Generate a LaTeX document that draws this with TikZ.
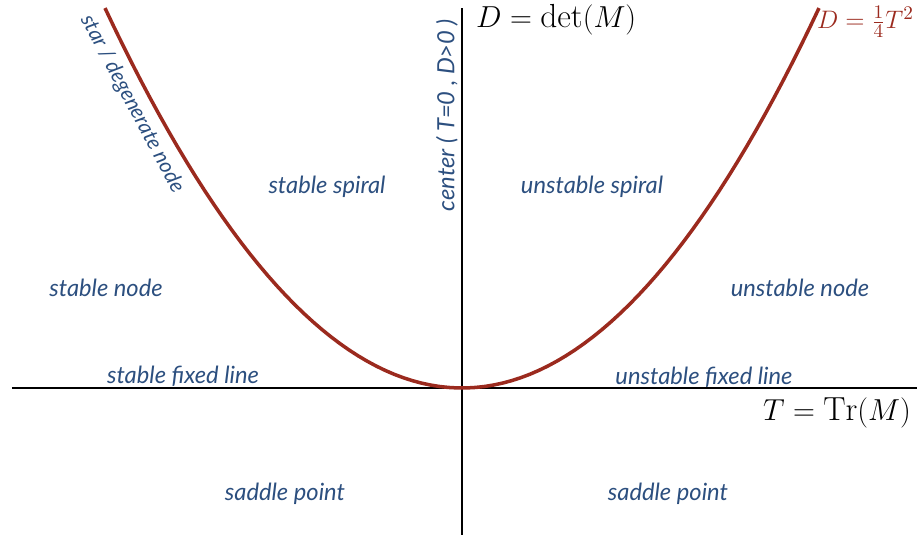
\documentclass[tikz,border=0pt]{standalone}
\usepackage{fontspec}
\setsansfont{Lato}
\usepackage{xcolor}
\usetikzlibrary{positioning}
\definecolor{regionblue}{HTML}{2C4F7F}
\definecolor{curvered}{HTML}{9B2A1E}

\begin{document}
\begin{tikzpicture}[
        x=0.02cm, y=0.02cm,
        region/.style={text=regionblue, font=\sffamily\itshape\fontsize{13.5}{15}\selectfont, inner sep=1pt},
        axis/.style={black, line width=1.7pt},
        axislabel/.style={font=\fontsize{19}{22}\selectfont, inner sep=1pt}
    ]
        \useasboundingbox (-462,-149) rectangle (455,388);
        \draw[axis] (-450,0) -- (455,0);
        \draw[axis] (0,-147) -- (0,380);
        \draw[curvered, line width=2pt, domain=-357:357, samples=80] plot (\x, {29.81*(\x/100)*(\x/100)});

        \node[axislabel, anchor=west] (detlabel) at (12,368) {$D=\det(M)$};
        \node[axislabel, anchor=east, text=curvered, font=\fontsize{15.5}{18}\selectfont] (curvelabel) at (454,366) {$D=\frac{1}{4}T^2$};
        \node[axislabel, anchor=east] (trlabel) at (451,-25) {$T=\mathrm{Tr}(M)$};

        \node[region] (spiralL) at (-135,201) {stable spiral};
        \node[region] (spiralR) at (130,201) {unstable spiral};
        \node[region] (nodeL) at (-356,100) {stable node};
        \node[region] (nodeR) at (338,100) {unstable node};
        \node[region] (lineL) at (-279,12) {stable fixed line};
        \node[region] (lineR) at (242,11) {unstable fixed line};
        \node[region] (saddleL) at (-177,-106) {saddle point};
        \node[region] (saddleR) at (206,-106) {saddle point};
        \node[region, rotate=90] (center) at (-15,273) {center ( T=0 , D>0 )};
        \node[region, rotate=-62, font=\sffamily\itshape\fontsize{12}{14}\selectfont] (star) at (-330,284) {star / degenerate node};
    \end{tikzpicture}
\end{document}
